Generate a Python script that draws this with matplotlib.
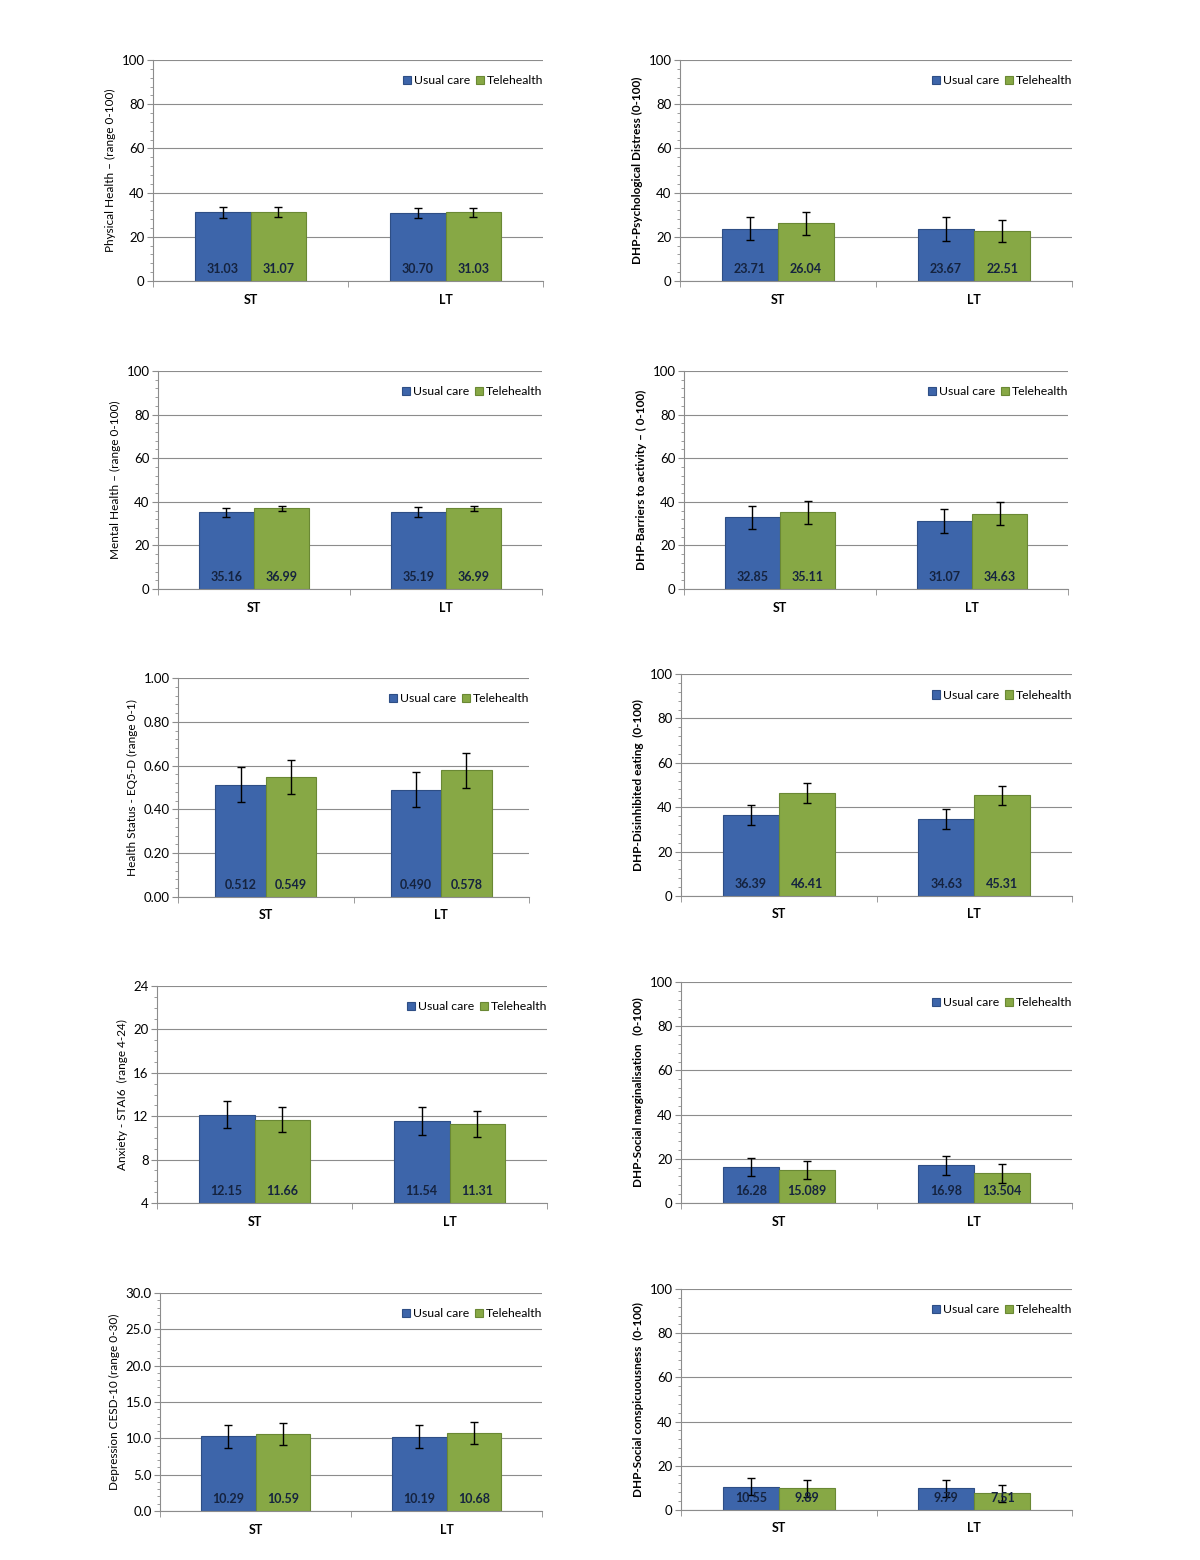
import matplotlib
matplotlib.use("Agg")
import matplotlib.pyplot as plt
from matplotlib.ticker import MultipleLocator, AutoMinorLocator, FormatStrFormatter

plt.rcParams["font.family"] = ["Lato", "DejaVu Sans"]

# ---- data ----
periods = ["ST", "LT"]
groups = ["Usual care", "Telehealth"]

titles = [
    "Physical Health \u2013 (range 0-100)",
    "DHP-Psychological Distress (0-100)",
    "Mental Health \u2013 (range 0-100)",
    "DHP-Barriers to activity \u2013 ( 0-100)",
    "Health Status - EQ5-D (range 0-1)",
    "DHP-Disinhibited eating  (0-100)",
    "Anxiety - STAI6  (range 4-24)",
    "DHP-Social marginalisation   (0-100)",
    "Depression CESD-10 (range 0-30)",
    "DHP-Social conspicuousness  (0-100)",
]

usual_care = [
    [31.03, 30.70], [23.71, 23.67], [35.16, 35.19], [32.85, 31.07], [0.512, 0.490],
    [36.39, 34.63], [12.15, 11.54], [16.28, 16.98], [10.29, 10.19], [10.55, 9.79],
]
telehealth = [
    [31.07, 31.03], [26.04, 22.51], [36.99, 36.99], [35.11, 34.63], [0.549, 0.578],
    [46.41, 45.31], [11.66, 11.31], [15.089, 13.504], [10.59, 10.68], [9.89, 7.51],
]
usual_labels = [
    ["31.03", "30.70"], ["23.71", "23.67"], ["35.16", "35.19"], ["32.85", "31.07"], ["0.512", "0.490"],
    ["36.39", "34.63"], ["12.15", "11.54"], ["16.28", "16.98"], ["10.29", "10.19"], ["10.55", "9.79"],
]
tele_labels = [
    ["31.07", "31.03"], ["26.04", "22.51"], ["36.99", "36.99"], ["35.11", "34.63"], ["0.549", "0.578"],
    ["46.41", "45.31"], ["11.66", "11.31"], ["15.089", "13.504"], ["10.59", "10.68"], ["9.89", "7.51"],
]
usual_err = [
    [2.3, 2.2], [5.3, 5.5], [2.2, 2.2], [5.3, 5.4], [0.080, 0.080],
    [4.4, 4.4], [1.24, 1.27], [4.2, 4.3], [1.57, 1.58], [3.9, 4.0],
]
tele_err = [
    [2.2, 2.2], [5.0, 5.0], [1.2, 1.1], [5.3, 5.4], [0.078, 0.078],
    [4.4, 4.4], [1.15, 1.2], [4.1, 4.3], [1.5, 1.5], [3.9, 3.8],
]
y_min = [0, 0, 0, 0, 0.0, 0, 4, 0, 0.0, 0]
y_max = [100, 100, 100, 100, 1.0, 100, 24, 100, 30.0, 100]
y_step = [20, 20, 20, 20, 0.2, 20, 4, 20, 5.0, 20]
y_fmt = ["%d", "%d", "%d", "%d", "%.2f", "%d", "%d", "%d", "%.1f", "%d"]
y_minor = [5, 5, 5, 5, 5, 5, 4, 5, 5, 5]

# ---- layout (pixel boxes: left, top, right, bottom) ----
W, H = 1200, 1560
boxes = [
    (153, 60, 543, 281), (680, 60, 1072, 281),
    (158, 371, 542, 589), (684, 371, 1068, 589),
    (178, 678, 529, 897), (681, 674, 1072, 896),
    (157, 986, 547, 1203), (681, 982, 1072, 1203),
    (160, 1293, 542, 1511), (681, 1289, 1072, 1510),
]

BLUE, BLUE_EDGE = "#3D65AA", "#2E4E85"
GREEN, GREEN_EDGE = "#87A845", "#6A8834"
GRID = "#8C8C8C"
LABEL_COLOR = "#15233F"

fig = plt.figure(figsize=(W / 100, H / 100), dpi=100)

bw = 0.287
centers = [0.5, 1.5]
for i, (l, t, r, b) in enumerate(boxes):
    ax = fig.add_axes([l / W, 1 - b / H, (r - l) / W, (b - t) / H])
    lo = y_min[i]
    xb = [c - bw / 2 for c in centers]
    xg = [c + bw / 2 for c in centers]
    hb = [v - lo for v in usual_care[i]]
    hg = [v - lo for v in telehealth[i]]
    b1 = ax.bar(xb, hb, bw, bottom=lo, color=BLUE, edgecolor=BLUE_EDGE, linewidth=0.8,
                label=groups[0], zorder=2)
    b2 = ax.bar(xg, hg, bw, bottom=lo, color=GREEN, edgecolor=GREEN_EDGE, linewidth=0.8,
                label=groups[1], zorder=2)
    ax.errorbar(xb, usual_care[i], yerr=usual_err[i], fmt="none", ecolor="black",
                elinewidth=1, capsize=3, capthick=1, zorder=3)
    ax.errorbar(xg, telehealth[i], yerr=tele_err[i], fmt="none", ecolor="black",
                elinewidth=1, capsize=3, capthick=1, zorder=3)
    for x, s in zip(xb, usual_labels[i]):
        ax.annotate(s, xy=(x, lo), xytext=(0, 12), textcoords="offset pixels",
                    ha="center", va="center", fontsize=9, fontweight="bold",
                    color=LABEL_COLOR, zorder=4)
    for x, s in zip(xg, tele_labels[i]):
        ax.annotate(s, xy=(x, lo), xytext=(0, 12), textcoords="offset pixels",
                    ha="center", va="center", fontsize=9, fontweight="bold",
                    color=LABEL_COLOR, zorder=4)

    ax.set_xlim(0, 2)
    ax.set_ylim(lo, y_max[i])
    ax.yaxis.set_major_locator(MultipleLocator(y_step[i]))
    ax.yaxis.set_minor_locator(AutoMinorLocator(y_minor[i]))
    ax.yaxis.set_major_formatter(FormatStrFormatter(y_fmt[i]))
    ax.set_xticks(centers)
    ax.set_xticklabels(periods, fontsize=9, fontweight="bold")
    ax.set_xticks([0, 1, 2], minor=True)
    ax.tick_params(axis="x", which="major", length=0, pad=9)
    ax.tick_params(axis="x", which="minor", length=4, color=GRID)
    ax.tick_params(axis="y", which="major", length=4, color=GRID, labelsize=9.5, pad=2)
    ax.tick_params(axis="y", which="minor", length=2.5, color=GRID)
    ax.grid(axis="y", which="major", color=GRID, linewidth=0.8, zorder=0)
    ax.set_axisbelow(True)
    for side in ("top", "right"):
        ax.spines[side].set_visible(False)
    for side in ("left", "bottom"):
        ax.spines[side].set_color(GRID)
        ax.spines[side].set_linewidth(0.8)
    ax.set_ylabel(titles[i], fontsize=8.5, fontweight="bold" if i % 2 else "normal")

    ax.legend(handles=[b1, b2], loc="upper right", bbox_to_anchor=(1.0, 0.93), ncol=2,
              frameon=False, fontsize=8.8, handlelength=0.7, handleheight=0.7,
              handletextpad=0.2, columnspacing=0.45, borderaxespad=0.0, borderpad=0.0)

fig.savefig("out.png", dpi=100, facecolor="white")
